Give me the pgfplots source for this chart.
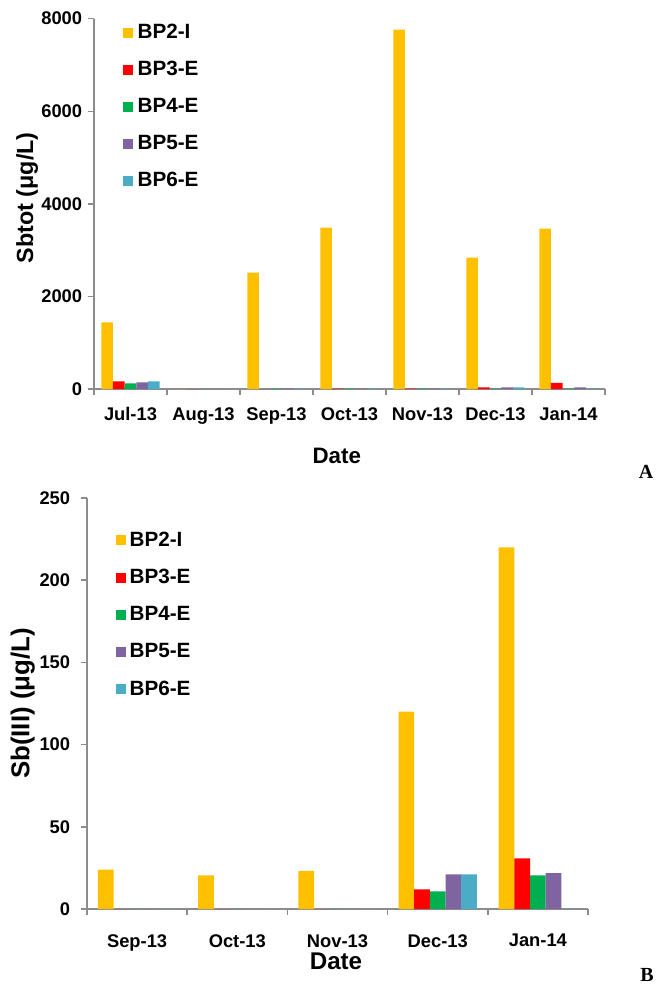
\documentclass[border=0pt]{standalone}
\usepackage{fontspec}
\setmainfont{Liberation Sans}
\newfontfamily\timesfont{Liberation Serif}
\usepackage{pgfplots}
\pgfplotsset{compat=1.18}
\definecolor{cY}{HTML}{FFC000}
\definecolor{cR}{HTML}{FF0000}
\definecolor{cG}{HTML}{00B050}
\definecolor{cP}{HTML}{8064A2}
\definecolor{cC}{HTML}{4BACC6}
\definecolor{axgray}{HTML}{8C8C8C}
\pgfplotsset{
  common/.style={
    scale only axis,
    axis x line*=bottom, axis y line*=left,
    axis line style={draw=axgray, line width=0.9pt},
    tick style={draw=axgray, line width=0.9pt},
    tick align=outside, major tick length=3.6pt,
    ybar=0pt,
    x tick label as interval,
    /pgf/number format/assume math mode=true,
    /pgf/number format/set thousands separator={},
    tick label style={font=\bfseries\fontsize{11}{13}\selectfont},
    legend image code/.code={\fill[##1] (0pt,-3pt) rectangle (6pt,3pt);},
    legend cell align=left,
  }
}
\begin{document}
\begin{tikzpicture}
\path[use as bounding box] (0,0) rectangle (393.6pt,-591pt);
% ---------------- Panel A ----------------
\begin{axis}[common,
  at={(56.4pt,-233.4pt)}, anchor=south west,
  width=306.6pt, height=222.2pt,
  xmin=0, xmax=7, ymin=0, ymax=8000,
  xtick={0,...,7},
  xticklabels={Jul-13,Aug-13,Sep-13,Oct-13,Nov-13,Dec-13,Jan-14},
  xticklabel style={yshift=-4pt},
  ytick={0,2000,...,8000},
  bar width=7.0pt,
  xlabel={Date},
  xlabel style={font=\bfseries\fontsize{13.4}{15}\selectfont, at={(axis description cs:0.475,0)}, anchor=center, yshift=-40pt},
  ylabel={Sbtot (μg/L)},
  ylabel style={font=\bfseries\fontsize{14}{16}\selectfont, at={(axis description cs:-0.131,0.516)}, anchor=center},
  legend style={at={(axis description cs:0,1)}, anchor=north west, xshift=17pt, yshift=-2.2pt,
    draw=none, fill=none, inner sep=0pt, row sep=10.1pt, column sep=2pt,
    nodes={inner sep=1pt}, font=\bfseries\fontsize{12.4}{14}\selectfont},
]
\addplot[fill=cY, draw=none] coordinates {(0.5,1438) (1.5,0) (2.5,2512) (3.5,3485) (4.5,7762) (5.5,2836) (6.5,3463)};
\addplot[fill=cR, draw=none] coordinates {(0.5,166) (1.5,0) (2.5,0) (3.5,8) (4.5,8) (5.5,36) (6.5,130)};
\addplot[fill=cG, draw=none] coordinates {(0.5,123) (1.5,0) (2.5,8) (3.5,8) (4.5,8) (5.5,8) (6.5,8)};
\addplot[fill=cP, draw=none] coordinates {(0.5,145) (1.5,0) (2.5,8) (3.5,8) (4.5,8) (5.5,36) (6.5,36)};
\addplot[fill=cC, draw=none] coordinates {(0.5,166) (1.5,0) (2.5,8) (3.5,8) (4.5,8) (5.5,36) (6.5,8)};
\legend{BP2-I,BP3-E,BP4-E,BP5-E,BP6-E}
\end{axis}
% ---------------- Panel B ----------------
\begin{axis}[common,
  at={(52.2pt,-545.4pt)}, anchor=south west,
  width=300.6pt, height=246.6pt,
  xmin=0, xmax=5, ymin=0, ymax=250,
  xtick={0,...,5},
  xticklabels={Sep-13,Oct-13,Nov-13,Dec-13,Jan-14},
  xticklabel style={yshift=-8pt},
  yticklabel style={xshift=-3pt},
  ytick={0,50,...,250},
  bar width=9.4pt,
  xlabel={Date},
  xlabel style={font=\bfseries\fontsize{14.5}{16}\selectfont, at={(axis description cs:0.497,0)}, anchor=center, yshift=-31.5pt},
  ylabel={Sb(III) (μg/L)},
  ylabel style={font=\bfseries\fontsize{15.5}{17}\selectfont, at={(axis description cs:-0.128,0.50)}, anchor=center},
  legend style={at={(axis description cs:0,1)}, anchor=north west, xshift=17.4pt, yshift=-19pt,
    draw=none, fill=none, inner sep=0pt, row sep=10.3pt, column sep=1pt,
    nodes={inner sep=1pt}, font=\bfseries\fontsize{12.4}{14}\selectfont},
]
\addplot[fill=cY, draw=none] coordinates {(0.5,24) (1.5,20.5) (2.5,23.2) (3.5,120) (4.5,220)};
\addplot[fill=cR, draw=none] coordinates {(0.5,0) (1.5,0) (2.5,0) (3.5,12) (4.5,30.8)};
\addplot[fill=cG, draw=none] coordinates {(0.5,0) (1.5,0) (2.5,0) (3.5,10.7) (4.5,20.5)};
\addplot[fill=cP, draw=none] coordinates {(0.5,0) (1.5,0) (2.5,0) (3.5,21) (4.5,21.8)};
\addplot[fill=cC, draw=none] coordinates {(0.5,0) (1.5,0) (2.5,0) (3.5,21) (4.5,0)};
\legend{BP2-I,BP3-E,BP4-E,BP5-E,BP6-E}
\end{axis}
\node[font=\timesfont\bfseries\fontsize{12}{14}\selectfont] at (387.6pt,-283pt) {A};
\node[font=\timesfont\bfseries\fontsize{12}{14}\selectfont] at (388.2pt,-585pt) {B};
\end{tikzpicture}
\end{document}
